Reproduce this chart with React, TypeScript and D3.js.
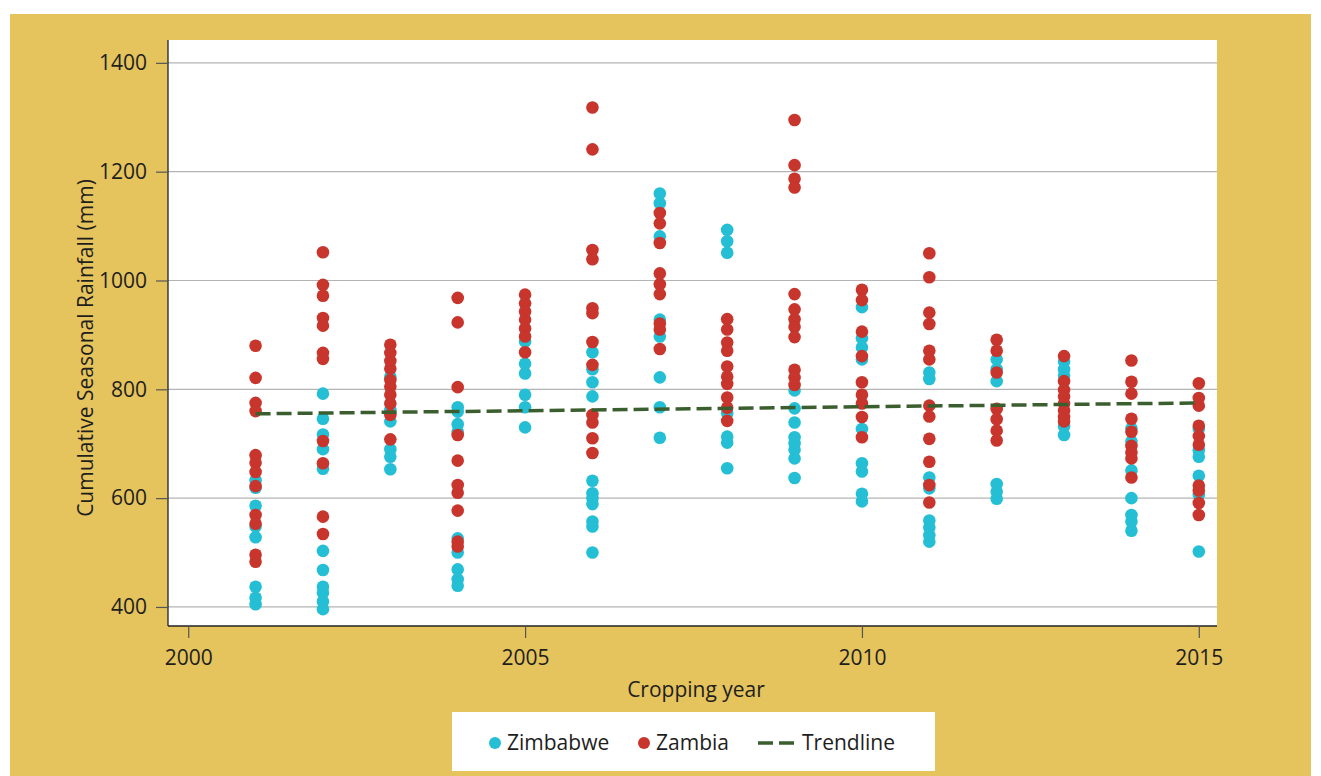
import React, { useEffect, useRef } from "react";
import * as d3 from "d3";

const years = [2001, 2002, 2003, 2004, 2005, 2006, 2007, 2008, 2009, 2010, 2011, 2012, 2013, 2014, 2015];

const zimbabwe: number[][] = [
  [633, 619, 586, 548, 528, 437, 417, 405],
  [792, 746, 717, 690, 654, 503, 468, 437, 426, 410, 396],
  [823, 762, 741, 690, 676, 653],
  [767, 759, 736, 722, 526, 500, 469, 451, 439],
  [888, 847, 829, 790, 767, 730],
  [868, 837, 813, 787, 632, 609, 600, 589, 557, 548, 500],
  [1160, 1142, 1081, 928, 897, 822, 767, 711],
  [1093, 1072, 1051, 756, 713, 702, 655],
  [798, 765, 739, 712, 701, 689, 673, 637],
  [951, 894, 877, 855, 727, 664, 649, 608, 594],
  [831, 819, 638, 618, 559, 546, 532, 520],
  [855, 837, 815, 626, 612, 599],
  [851, 837, 825, 732, 716],
  [728, 704, 651, 600, 569, 557, 540],
  [727, 688, 676, 641, 606, 502],
];

const zambia: number[][] = [
  [880, 821, 775, 760, 679, 665, 648, 622, 569, 553, 496, 483],
  [1052, 992, 972, 931, 917, 867, 856, 705, 664, 566, 534],
  [882, 867, 852, 838, 817, 805, 790, 774, 753, 708],
  [968, 923, 804, 716, 669, 624, 610, 577, 520, 511],
  [974, 958, 943, 928, 912, 897, 868],
  [1318, 1241, 1056, 1039, 949, 940, 887, 845, 753, 739, 710, 683],
  [1124, 1105, 1069, 1013, 993, 975, 921, 910, 874],
  [929, 910, 886, 871, 842, 823, 810, 785, 766, 742],
  [1295, 1212, 1187, 1171, 975, 947, 929, 915, 896, 836, 822, 808],
  [983, 964, 906, 861, 813, 790, 774, 749, 712],
  [1050, 1006, 941, 920, 871, 855, 770, 750, 709, 667, 624, 592],
  [891, 871, 831, 764, 745, 724, 706],
  [861, 815, 799, 787, 774, 761, 749, 741],
  [853, 814, 792, 746, 722, 696, 684, 673, 638],
  [811, 784, 770, 733, 714, 698, 623, 614, 591, 569],
];

const trendYears = [2001, 2015];
const trendValues = [755, 775];

const xTicks = [2000, 2005, 2010, 2015];
const yTicks = [400, 600, 800, 1000, 1200, 1400];

const seriesNames = ["Zimbabwe", "Zambia", "Trendline"];

const W = 1321;
const H = 776;
const FONT = "'Open Sans', 'Noto Sans', sans-serif";
const CYAN = "#25bfd5";
const RED = "#c8352c";
const GREEN = "#3b5e2e";
const YELLOW = "#e5c35d";
const TXT = "#1e1e1e";

export default function App() {
  const ref = useRef<SVGSVGElement>(null);

  useEffect(() => {
    const svg = d3.select(ref.current);
    svg.selectAll("*").remove();

    svg.append("rect").attr("x", 10).attr("y", 14).attr("width", 1301).attr("height", 762).attr("fill", YELLOW);

    const left = 168, right = 1217, top = 40, bottom = 626;
    const x = d3.scaleLinear().domain([1999.7, 2015.27]).range([left, right]);
    const y = d3.scaleLinear().domain([365, 1442]).range([bottom, top]);

    svg.append("rect").attr("x", left).attr("y", top).attr("width", right - left).attr("height", bottom - top).attr("fill", "#fff");

    // gridlines
    svg.append("g").selectAll("line").data(yTicks).join("line")
      .attr("x1", left).attr("x2", right)
      .attr("y1", (d) => y(d)).attr("y2", (d) => y(d))
      .attr("stroke", "#b4b4b4").attr("stroke-width", 1.2);

    // y axis
    const yAxis = svg.append("g").attr("transform", `translate(${left},0)`)
      .call(d3.axisLeft(y).tickValues(yTicks).tickSize(12).tickPadding(9).tickFormat(d3.format("d")));
    yAxis.select(".domain").attr("stroke", "#222").attr("stroke-width", 1.3).attr("d", `M0,${top}V${bottom}`);
    yAxis.selectAll(".tick line").attr("stroke", "#555").attr("stroke-width", 1.2);
    yAxis.selectAll(".tick text").attr("font-family", FONT).attr("font-size", 21).attr("fill", TXT);

    // x axis
    const xAxis = svg.append("g").attr("transform", `translate(0,${bottom})`)
      .call(d3.axisBottom(x).tickValues(xTicks).tickSize(12).tickPadding(12).tickFormat(d3.format("d")));
    xAxis.select(".domain").attr("stroke", "#222").attr("stroke-width", 1.3).attr("d", `M${left},0H${right}`);
    xAxis.selectAll(".tick line").attr("stroke", "#555").attr("stroke-width", 1.2);
    xAxis.selectAll(".tick text").attr("font-family", FONT).attr("font-size", 21).attr("fill", TXT);

    // axis titles
    svg.append("text").attr("x", 696).attr("y", 697).attr("text-anchor", "middle")
      .attr("font-family", FONT).attr("font-size", 21).attr("fill", TXT).text("Cropping year");
    svg.append("text").attr("transform", `translate(93,348) rotate(-90)`)
      .attr("text-anchor", "middle").attr("font-family", FONT).attr("font-size", 21).attr("fill", TXT)
      .text("Cumulative Seasonal Rainfall (mm)");

    const pts = (arr: number[][]) => arr.flatMap((vals, i) => vals.map((v) => ({ yr: years[i], v })));

    svg.append("g").selectAll("circle").data(pts(zimbabwe)).join("circle")
      .attr("cx", (d) => x(d.yr)).attr("cy", (d) => y(d.v)).attr("r", 6.3).attr("fill", CYAN);
    svg.append("g").selectAll("circle").data(pts(zambia)).join("circle")
      .attr("cx", (d) => x(d.yr)).attr("cy", (d) => y(d.v)).attr("r", 6.3).attr("fill", RED);

    const line = d3.line<number>().x((d, i) => x(trendYears[i])).y((d) => y(d));
    svg.append("path").attr("d", line(trendValues)).attr("fill", "none").attr("stroke", GREEN)
      .attr("stroke-width", 3.5).attr("stroke-dasharray", "15,6");

    // legend
    const lg = svg.append("g");
    lg.append("rect").attr("x", 452).attr("y", 712).attr("width", 483).attr("height", 59).attr("fill", "#fff");
    const ly = 743;
    const fs = 21;
    lg.append("circle").attr("cx", 495).attr("cy", ly).attr("r", 6).attr("fill", CYAN);
    lg.append("text").attr("x", 507).attr("y", 750).attr("font-family", FONT).attr("font-size", fs).attr("fill", TXT).text(seriesNames[0]);
    lg.append("circle").attr("cx", 644).attr("cy", ly).attr("r", 6).attr("fill", RED);
    lg.append("text").attr("x", 656).attr("y", 750).attr("font-family", FONT).attr("font-size", fs).attr("fill", TXT).text(seriesNames[1]);
    lg.append("line").attr("x1", 758).attr("x2", 797).attr("y1", ly).attr("y2", ly).attr("stroke", GREEN)
      .attr("stroke-width", 3.5).attr("stroke-dasharray", "15,6");
    lg.append("text").attr("x", 802).attr("y", 750).attr("font-family", FONT).attr("font-size", fs).attr("fill", TXT).text(seriesNames[2]);
  }, []);

  return (
    <svg ref={ref} width={W} height={H} style={{ position: "absolute", left: 0, top: 0, display: "block" }} />
  );
}
